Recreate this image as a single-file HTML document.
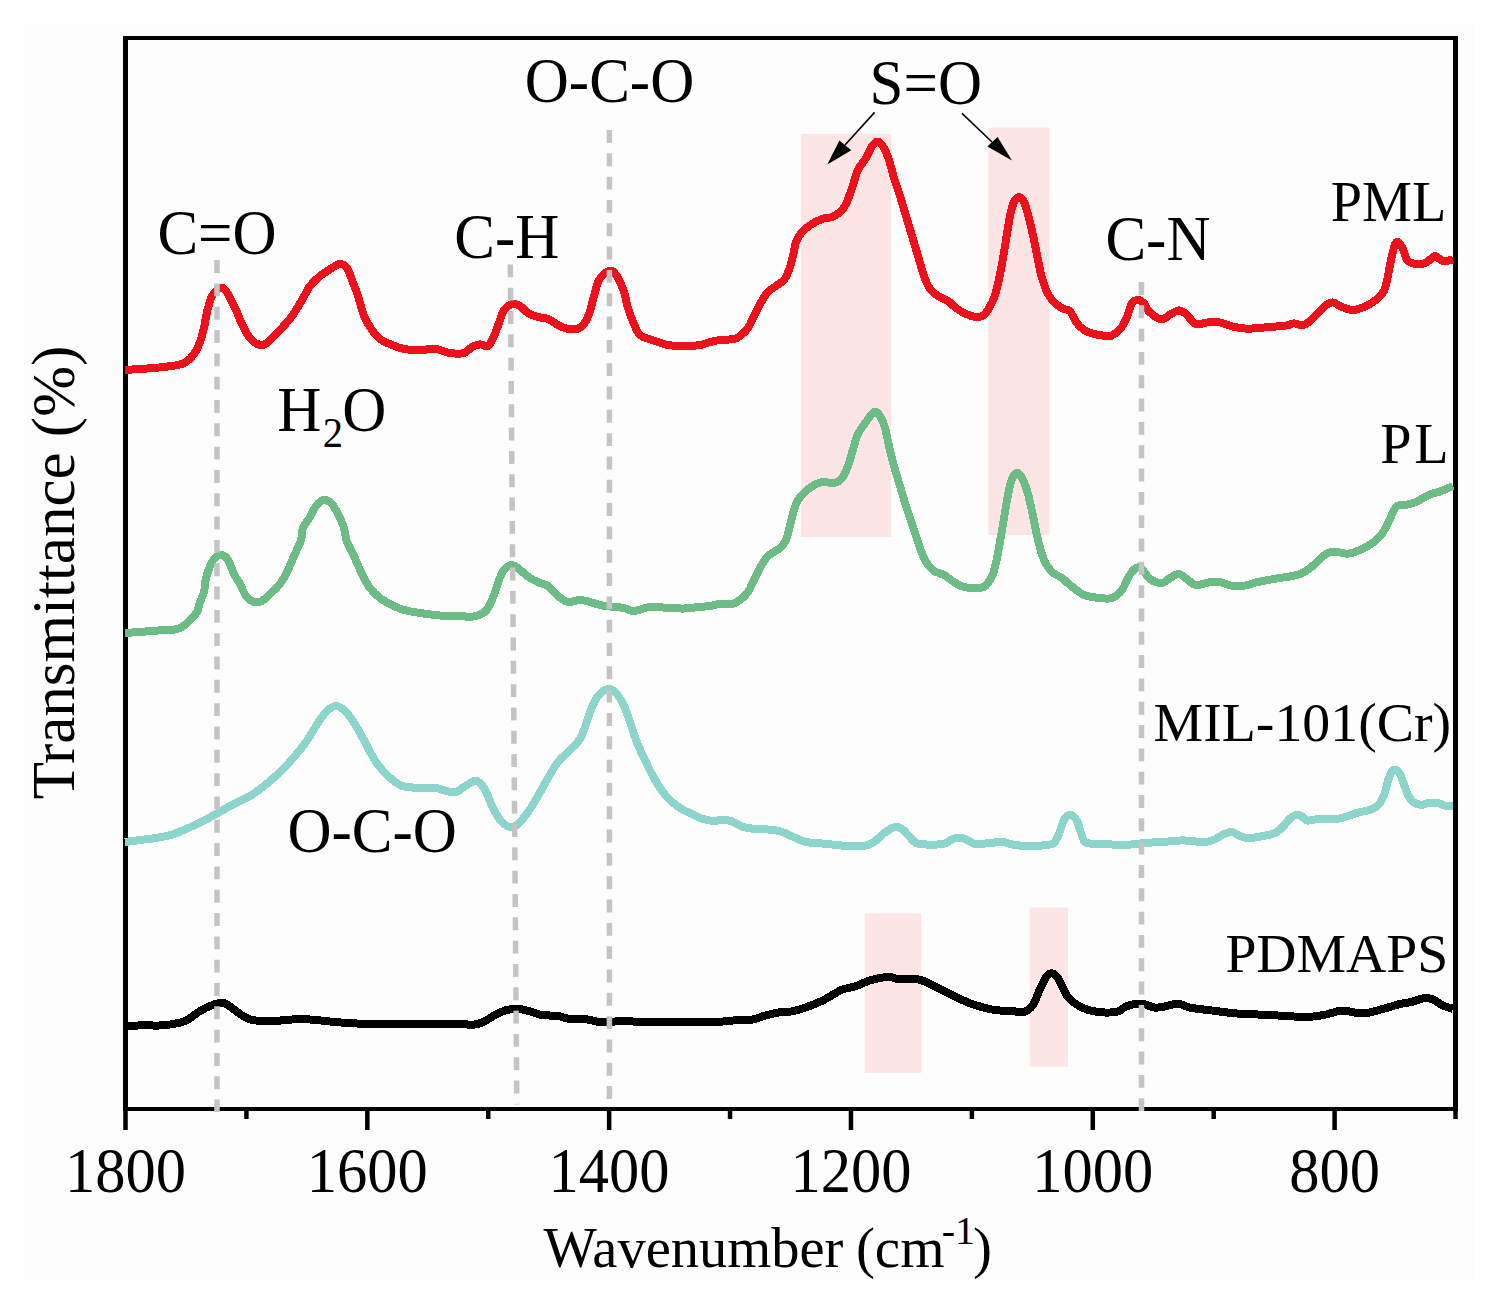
<!DOCTYPE html><html><head><meta charset="utf-8"><style>html,body{margin:0;padding:0;background:#fff;}body{width:1498px;height:1301px;overflow:hidden;position:relative;}svg{position:absolute;left:0;top:0;display:block;}text{font-family:"Liberation Serif",serif;fill:#000;}</style></head><body>
<svg width="1498" height="1301" viewBox="0 0 1498 1301">
<rect x="0" y="0" width="1498" height="1301" fill="#ffffff"/>
<rect x="23" y="24" width="1451" height="1257" fill="#fdfdfd"/>
<rect x="801" y="134" width="90.0" height="403.0" fill="#fde5e5"/>
<rect x="988.4" y="127.6" width="61.1" height="407.4" fill="#fde5e5"/>
<rect x="864.8" y="913.3" width="56.5" height="159.6" fill="#fde5e5"/>
<rect x="1029.7" y="907.5" width="38.3" height="159.3" fill="#fde5e5"/>
<g fill="#000">
<rect x="123" y="36" width="5" height="1075"/>
<rect x="1453" y="36" width="5" height="1075"/>
<rect x="123" y="36" width="1335" height="4"/>
<rect x="123" y="1107" width="1335" height="4"/>
<rect x="123.25" y="1111" width="4.5" height="19"/>
<rect x="244.16" y="1111" width="4.5" height="8"/>
<rect x="365.07" y="1111" width="4.5" height="19"/>
<rect x="485.98" y="1111" width="4.5" height="8"/>
<rect x="606.89" y="1111" width="4.5" height="19"/>
<rect x="727.80" y="1111" width="4.5" height="8"/>
<rect x="848.71" y="1111" width="4.5" height="19"/>
<rect x="969.62" y="1111" width="4.5" height="8"/>
<rect x="1090.53" y="1111" width="4.5" height="19"/>
<rect x="1211.44" y="1111" width="4.5" height="8"/>
<rect x="1332.35" y="1111" width="4.5" height="19"/>
<rect x="1453.26" y="1111" width="4.5" height="8"/>
</g>
<clipPath id="pc"><rect x="125.5" y="36" width="1330" height="1075"/></clipPath>
<g fill="none" stroke-linejoin="round" stroke-linecap="butt" shape-rendering="crispEdges">
<path d="M124.9,1025.9 C128.0,1025.8 137.2,1025.5 143.4,1025.4 C149.6,1025.3 156.2,1025.8 162.0,1025.4 C167.8,1025.0 174.1,1024.0 178.4,1023.0 C182.7,1022.0 184.3,1021.5 187.8,1019.6 C191.3,1017.7 195.5,1013.7 199.4,1011.4 C203.3,1009.1 207.1,1007.0 211.0,1005.6 C214.9,1004.2 219.3,1002.4 222.8,1002.8 C226.3,1003.2 228.9,1006.0 232.0,1008.0 C235.1,1010.0 238.3,1013.1 241.5,1015.0 C244.7,1016.9 247.1,1018.6 251.0,1019.6 C254.9,1020.6 259.6,1021.1 265.0,1021.2 C270.4,1021.3 277.8,1020.7 283.6,1020.3 C289.4,1019.9 294.2,1019.0 300.0,1019.0 C305.8,1019.0 311.6,1019.7 318.6,1020.3 C325.6,1020.9 332.3,1021.9 342.0,1022.6 C351.7,1023.3 363.4,1024.0 377.0,1024.3 C390.6,1024.6 409.9,1024.4 423.7,1024.3 C437.5,1024.2 452.0,1023.5 460.0,1023.6 C468.0,1023.7 467.8,1025.3 471.7,1025.0 C475.6,1024.7 479.5,1023.7 483.4,1022.0 C487.3,1020.3 491.1,1017.0 495.0,1015.0 C498.9,1013.0 502.8,1011.0 506.7,1010.0 C510.6,1009.0 514.5,1008.8 518.4,1009.0 C522.3,1009.2 526.1,1010.4 530.0,1011.4 C533.9,1012.4 537.1,1014.2 541.8,1015.0 C546.5,1015.8 553.3,1015.3 558.0,1016.0 C562.7,1016.7 564.9,1018.4 570.0,1019.0 C575.1,1019.6 583.5,1019.1 588.5,1019.6 C593.5,1020.1 594.1,1021.7 600.0,1022.0 C605.9,1022.3 615.8,1021.2 623.6,1021.2 C631.4,1021.2 637.3,1021.9 647.0,1022.0 C656.7,1022.1 670.3,1022.0 682.0,1022.0 C693.7,1022.0 709.2,1022.2 717.0,1022.0 C724.8,1021.8 722.9,1021.1 728.7,1020.7 C734.5,1020.3 746.2,1020.4 752.0,1019.6 C757.8,1018.8 759.4,1017.2 763.7,1016.0 C768.0,1014.8 773.1,1013.4 777.8,1012.6 C782.5,1011.8 787.4,1012.2 791.8,1011.4 C796.2,1010.6 798.9,1009.8 804.0,1008.0 C809.1,1006.2 816.5,1003.5 822.7,1000.5 C828.9,997.5 836.0,992.4 841.4,990.0 C846.8,987.6 850.7,988.0 855.4,986.4 C860.1,984.8 864.0,982.2 869.4,980.6 C874.8,979.0 882.9,977.2 888.0,977.0 C893.1,976.8 894.7,979.0 899.8,979.4 C904.9,979.8 912.6,978.2 918.5,979.4 C924.4,980.6 929.0,983.7 934.9,986.4 C940.8,989.1 947.4,992.9 953.6,995.8 C959.8,998.7 965.4,1001.7 972.0,1004.0 C978.6,1006.3 986.6,1008.6 993.3,1009.8 C1000.0,1011.0 1007.0,1010.6 1012.0,1011.0 C1017.0,1011.4 1020.1,1013.0 1023.6,1012.0 C1027.1,1011.0 1030.3,1008.9 1033.0,1005.0 C1035.7,1001.1 1037.7,993.6 1040.0,988.8 C1042.3,984.0 1044.9,978.5 1047.0,976.0 C1049.1,973.5 1050.8,973.0 1052.8,973.6 C1054.8,974.2 1056.2,975.5 1058.7,979.4 C1061.2,983.3 1064.1,992.3 1068.0,997.0 C1071.9,1001.7 1076.9,1005.0 1082.0,1007.5 C1087.1,1010.0 1092.6,1011.3 1098.4,1012.0 C1104.2,1012.7 1112.3,1012.7 1117.0,1011.7 C1121.7,1010.8 1122.5,1007.6 1126.5,1006.3 C1130.5,1004.9 1136.2,1003.4 1141.0,1003.6 C1145.8,1003.8 1150.7,1007.2 1155.0,1007.6 C1159.3,1008.0 1162.8,1006.7 1166.7,1006.0 C1170.6,1005.3 1174.5,1003.3 1178.4,1003.6 C1182.3,1003.9 1184.2,1006.4 1190.0,1007.6 C1195.8,1008.8 1205.7,1009.7 1213.5,1010.7 C1221.3,1011.7 1229.0,1012.9 1236.8,1013.5 C1244.5,1014.1 1252.2,1014.2 1260.0,1014.6 C1267.8,1015.0 1275.8,1015.4 1283.6,1015.8 C1291.4,1016.2 1300.0,1017.2 1307.0,1017.0 C1314.0,1016.8 1319.8,1015.6 1325.6,1014.6 C1331.4,1013.6 1335.8,1010.9 1342.0,1010.7 C1348.2,1010.5 1356.4,1013.7 1363.0,1013.5 C1369.6,1013.3 1375.5,1010.9 1381.7,1009.3 C1387.9,1007.7 1395.0,1005.2 1400.0,1004.0 C1405.0,1002.8 1408.0,1002.8 1412.0,1001.8 C1416.0,1000.8 1420.2,998.7 1423.7,998.3 C1427.2,997.9 1429.9,998.2 1433.0,999.4 C1436.1,1000.6 1439.1,1003.7 1442.4,1005.3 C1445.7,1006.9 1451.2,1008.2 1453.0,1008.8" stroke="#000000" stroke-width="8"/>
<path d="M124.9,842.0 C127.4,841.7 134.8,840.7 140.0,840.0 C145.2,839.3 150.7,838.9 156.0,838.0 C161.3,837.1 167.0,836.1 172.0,834.6 C177.0,833.1 181.3,831.0 186.0,829.0 C190.7,827.0 195.0,825.1 200.0,822.6 C205.0,820.1 210.7,816.9 216.0,814.0 C221.3,811.1 226.3,808.0 232.0,805.0 C237.7,802.0 244.7,799.2 250.0,796.0 C255.3,792.8 259.0,790.0 264.0,786.0 C269.0,782.0 275.0,776.8 280.0,772.0 C285.0,767.2 289.7,762.0 294.0,757.0 C298.3,752.0 302.3,747.2 306.0,742.0 C309.7,736.8 312.7,731.0 316.0,726.0 C319.3,721.0 322.7,715.3 326.0,712.0 C329.3,708.7 332.7,706.0 336.0,706.0 C339.3,706.0 342.7,708.7 346.0,712.0 C349.3,715.3 352.7,720.7 356.0,726.0 C359.3,731.3 362.7,738.0 366.0,744.0 C369.3,750.0 372.3,756.7 376.0,762.0 C379.7,767.3 384.0,772.2 388.0,776.0 C392.0,779.8 396.7,783.2 400.0,785.0 C403.3,786.8 404.7,786.5 408.0,787.0 C411.3,787.5 415.3,787.8 420.0,788.0 C424.7,788.2 431.7,787.5 436.0,788.0 C440.3,788.5 442.7,790.3 446.0,791.0 C449.3,791.7 453.0,792.7 456.0,792.0 C459.0,791.3 461.0,788.8 464.0,787.0 C467.0,785.2 471.3,781.7 474.0,781.0 C476.7,780.3 478.0,781.2 480.0,783.0 C482.0,784.8 483.7,787.5 486.0,792.0 C488.3,796.5 491.3,805.0 494.0,810.0 C496.7,815.0 499.3,819.2 502.0,822.0 C504.7,824.8 507.3,826.7 510.0,827.0 C512.7,827.3 515.0,826.5 518.0,824.0 C521.0,821.5 524.7,816.7 528.0,812.0 C531.3,807.3 534.7,801.7 538.0,796.0 C541.3,790.3 544.7,783.7 548.0,778.0 C551.3,772.3 554.7,766.3 558.0,762.0 C561.3,757.7 564.7,755.3 568.0,752.0 C571.3,748.7 575.3,745.7 578.0,742.0 C580.7,738.3 582.0,735.0 584.0,730.0 C586.0,725.0 587.7,717.7 590.0,712.0 C592.3,706.3 595.0,699.8 598.0,696.0 C601.0,692.2 605.0,689.5 608.0,689.0 C611.0,688.5 613.3,690.2 616.0,693.0 C618.7,695.8 621.7,701.2 624.0,706.0 C626.3,710.8 628.0,716.3 630.0,722.0 C632.0,727.7 633.7,734.0 636.0,740.0 C638.3,746.0 641.0,751.7 644.0,758.0 C647.0,764.3 650.3,771.7 654.0,778.0 C657.7,784.3 661.7,791.0 666.0,796.0 C670.3,801.0 675.7,805.0 680.0,808.0 C684.3,811.0 688.7,812.3 692.0,814.0 C695.3,815.7 696.5,816.8 700.0,818.0 C703.5,819.2 709.5,820.7 713.0,821.0 C716.5,821.3 718.0,820.0 721.0,820.0 C724.0,820.0 727.5,819.9 731.0,821.0 C734.5,822.1 738.5,825.3 742.0,826.6 C745.5,827.9 748.7,828.2 752.0,828.6 C755.3,829.0 757.5,828.6 762.0,829.0 C766.5,829.4 773.8,829.7 779.0,831.0 C784.2,832.3 789.0,835.2 793.5,837.0 C798.0,838.8 800.8,840.9 806.0,842.0 C811.2,843.1 818.0,843.1 824.5,843.7 C831.0,844.3 838.4,845.4 845.0,845.8 C851.6,846.1 859.2,846.4 864.0,845.8 C868.8,845.2 870.6,844.2 874.0,842.0 C877.4,839.8 881.0,835.3 884.5,832.8 C888.0,830.3 891.9,827.5 895.0,827.0 C898.1,826.5 899.9,827.4 903.0,829.7 C906.1,832.0 910.7,838.6 913.5,841.0 C916.3,843.4 915.2,843.5 920.0,844.0 C924.8,844.5 937.3,844.7 942.5,844.0 C947.7,843.3 948.2,841.1 951.0,840.0 C953.8,838.9 956.3,837.5 959.0,837.5 C961.7,837.5 964.2,838.9 967.0,840.0 C969.8,841.1 971.8,843.5 975.6,844.0 C979.4,844.5 985.6,843.3 990.0,843.0 C994.4,842.7 997.8,841.7 1002.0,842.0 C1006.2,842.3 1010.2,844.3 1015.0,845.0 C1019.8,845.7 1024.8,846.2 1031.0,846.0 C1037.2,845.8 1047.5,845.7 1052.0,844.0 C1056.5,842.3 1055.9,840.2 1058.0,836.0 C1060.1,831.8 1062.4,822.5 1064.5,819.0 C1066.6,815.5 1068.6,814.7 1070.7,815.0 C1072.8,815.3 1075.1,817.5 1077.0,821.0 C1078.9,824.5 1080.3,832.3 1082.0,836.0 C1083.7,839.7 1083.3,841.7 1087.0,843.0 C1090.7,844.3 1097.8,843.7 1104.0,844.0 C1110.2,844.3 1117.7,845.2 1124.5,845.0 C1131.3,844.8 1138.1,843.5 1145.0,843.0 C1151.9,842.5 1159.8,842.1 1166.0,841.7 C1172.2,841.3 1176.3,840.4 1182.5,840.4 C1188.7,840.4 1197.8,842.1 1203.0,842.0 C1208.2,841.9 1210.0,841.3 1213.5,840.0 C1217.0,838.7 1220.9,835.3 1224.0,834.0 C1227.1,832.7 1229.3,831.7 1232.0,832.0 C1234.7,832.3 1237.2,835.0 1240.0,836.0 C1242.8,837.0 1245.2,838.0 1249.0,838.0 C1252.8,838.0 1258.6,836.9 1263.0,836.0 C1267.4,835.1 1272.1,834.5 1275.6,832.8 C1279.1,831.0 1281.5,828.0 1284.0,825.5 C1286.5,823.0 1288.3,819.8 1290.5,818.0 C1292.7,816.2 1295.1,814.9 1297.0,814.6 C1298.9,814.4 1300.3,815.5 1302.0,816.5 C1303.7,817.5 1304.6,820.1 1307.4,820.5 C1310.2,820.9 1313.7,819.3 1319.0,819.0 C1324.3,818.7 1334.2,819.0 1339.0,818.5 C1343.8,818.0 1344.8,817.0 1348.0,816.0 C1351.2,815.0 1354.1,813.7 1358.0,812.6 C1361.9,811.5 1368.0,810.8 1371.5,809.4 C1375.0,808.0 1376.8,806.6 1379.0,804.0 C1381.2,801.4 1382.9,797.9 1384.5,793.7 C1386.1,789.5 1387.2,782.8 1388.5,779.0 C1389.8,775.2 1391.1,772.3 1392.4,770.8 C1393.7,769.3 1395.0,769.5 1396.3,770.0 C1397.6,770.5 1398.7,771.6 1400.0,774.0 C1401.3,776.4 1402.7,781.0 1404.0,784.5 C1405.3,788.0 1406.5,792.1 1408.0,795.0 C1409.5,797.9 1411.1,800.4 1413.3,802.0 C1415.5,803.6 1418.2,804.7 1421.0,804.8 C1423.8,804.9 1426.9,803.0 1430.0,802.8 C1433.1,802.6 1436.7,803.0 1439.4,803.5 C1442.1,804.0 1443.7,805.6 1446.0,806.0 C1448.3,806.4 1451.8,806.0 1453.0,806.0" stroke="#8cd5cc" stroke-width="8"/>
<path d="M124.9,633.0 C127.4,632.8 134.8,632.4 140.0,632.0 C145.2,631.6 150.7,630.9 156.0,630.6 C161.3,630.3 167.7,630.6 172.0,630.0 C176.3,629.4 179.0,628.7 182.0,627.0 C185.0,625.3 187.5,622.5 190.0,620.0 C192.5,617.5 195.3,615.0 197.0,612.0 C198.7,609.0 198.8,605.3 200.0,602.0 C201.2,598.7 203.0,596.0 204.0,592.0 C205.0,588.0 204.8,582.7 206.0,578.0 C207.2,573.3 209.3,567.5 211.0,564.0 C212.7,560.5 214.2,558.5 216.0,557.0 C217.8,555.5 220.0,554.5 222.0,555.0 C224.0,555.5 226.0,556.8 228.0,560.0 C230.0,563.2 232.0,570.0 234.0,574.0 C236.0,578.0 238.0,580.3 240.0,584.0 C242.0,587.7 243.7,593.0 246.0,596.0 C248.3,599.0 251.3,601.2 254.0,602.0 C256.7,602.8 259.3,602.3 262.0,601.0 C264.7,599.7 267.0,596.8 270.0,594.0 C273.0,591.2 277.0,588.0 280.0,584.0 C283.0,580.0 285.7,574.7 288.0,570.0 C290.3,565.3 291.8,561.0 294.0,556.0 C296.2,551.0 299.5,544.7 301.0,540.0 C302.5,535.3 301.5,531.8 303.0,528.0 C304.5,524.2 307.8,520.7 310.0,517.0 C312.2,513.3 313.8,508.8 316.0,506.0 C318.2,503.2 320.5,500.5 323.0,500.0 C325.5,499.5 328.5,500.7 331.0,503.0 C333.5,505.3 335.8,509.8 338.0,514.0 C340.2,518.2 342.5,523.3 344.0,528.0 C345.5,532.7 345.3,537.3 347.0,542.0 C348.7,546.7 351.5,550.7 354.0,556.0 C356.5,561.3 359.3,568.7 362.0,574.0 C364.7,579.3 367.0,584.0 370.0,588.0 C373.0,592.0 376.3,595.2 380.0,598.0 C383.7,600.8 388.0,603.0 392.0,605.0 C396.0,607.0 399.3,608.7 404.0,610.0 C408.7,611.3 414.0,612.1 420.0,613.0 C426.0,613.9 433.3,615.0 440.0,615.5 C446.7,616.0 454.7,615.8 460.0,616.0 C465.3,616.2 468.0,617.3 472.0,616.7 C476.0,616.1 481.0,614.6 484.0,612.5 C487.0,610.4 488.2,607.4 490.0,604.0 C491.8,600.6 493.5,596.0 495.0,592.0 C496.5,588.0 497.5,583.7 499.0,580.0 C500.5,576.3 501.8,572.5 504.0,570.0 C506.2,567.5 509.3,565.0 512.0,565.0 C514.7,565.0 517.0,567.8 520.0,570.0 C523.0,572.2 526.7,575.8 530.0,578.0 C533.3,580.2 537.0,581.7 540.0,583.0 C543.0,584.3 545.0,583.8 548.0,586.0 C551.0,588.2 554.7,593.3 558.0,596.0 C561.3,598.7 564.3,601.3 568.0,602.0 C571.7,602.7 576.3,600.0 580.0,600.0 C583.7,600.0 586.7,601.2 590.0,602.0 C593.3,602.8 596.7,604.2 600.0,605.0 C603.3,605.8 606.0,606.0 610.0,606.5 C614.0,607.0 620.0,607.2 624.0,608.0 C628.0,608.8 629.7,611.2 634.0,611.0 C638.3,610.8 644.0,607.5 650.0,607.0 C656.0,606.5 664.3,607.8 670.0,608.0 C675.7,608.2 679.2,608.7 684.0,608.5 C688.8,608.3 694.7,607.4 699.0,607.0 C703.3,606.6 706.5,606.5 710.0,606.0 C713.5,605.5 716.3,604.3 720.0,604.0 C723.7,603.7 728.7,604.7 732.0,604.0 C735.3,603.3 737.3,602.0 740.0,600.0 C742.7,598.0 745.7,595.3 748.0,592.0 C750.3,588.7 752.0,584.0 754.0,580.0 C756.0,576.0 757.7,572.0 760.0,568.0 C762.3,564.0 764.7,559.3 768.0,556.0 C771.3,552.7 777.0,550.7 780.0,548.0 C783.0,545.3 784.3,543.7 786.0,540.0 C787.7,536.3 788.7,531.0 790.0,526.0 C791.3,521.0 792.7,514.3 794.0,510.0 C795.3,505.7 796.0,503.2 798.0,500.0 C800.0,496.8 803.0,493.7 806.0,491.0 C809.0,488.3 813.0,485.5 816.0,484.0 C819.0,482.5 821.0,482.2 824.0,482.0 C827.0,481.8 831.0,483.7 834.0,483.0 C837.0,482.3 839.7,480.8 842.0,478.0 C844.3,475.2 846.0,471.3 848.0,466.0 C850.0,460.7 852.3,451.3 854.0,446.0 C855.7,440.7 856.0,438.0 858.0,434.0 C860.0,430.0 863.3,425.7 866.0,422.0 C868.7,418.3 871.7,413.0 874.0,412.0 C876.3,411.0 878.2,413.3 880.0,416.0 C881.8,418.7 883.5,423.0 885.0,428.0 C886.5,433.0 887.5,439.7 889.0,446.0 C890.5,452.3 892.2,459.3 894.0,466.0 C895.8,472.7 898.0,479.3 900.0,486.0 C902.0,492.7 903.7,498.7 906.0,506.0 C908.3,513.3 911.7,523.0 914.0,530.0 C916.3,537.0 918.0,542.7 920.0,548.0 C922.0,553.3 923.7,558.2 926.0,562.0 C928.3,565.8 931.0,568.8 934.0,571.0 C937.0,573.2 940.7,573.2 944.0,575.0 C947.3,576.8 950.7,580.0 954.0,582.0 C957.3,584.0 960.3,586.0 964.0,587.0 C967.7,588.0 972.7,588.0 976.0,588.0 C979.3,588.0 982.0,587.8 984.0,587.0 C986.0,586.2 986.5,585.2 988.0,583.0 C989.5,580.8 991.5,578.2 993.0,574.0 C994.5,569.8 995.7,564.3 997.0,558.0 C998.3,551.7 999.7,543.7 1001.0,536.0 C1002.3,528.3 1003.7,519.7 1005.0,512.0 C1006.3,504.3 1007.7,495.8 1009.0,490.0 C1010.3,484.2 1011.5,479.8 1013.0,477.0 C1014.5,474.2 1016.3,472.5 1018.0,473.0 C1019.7,473.5 1021.3,476.5 1023.0,480.0 C1024.7,483.5 1026.3,488.0 1028.0,494.0 C1029.7,500.0 1031.3,508.3 1033.0,516.0 C1034.7,523.7 1036.2,532.7 1038.0,540.0 C1039.8,547.3 1041.7,554.7 1044.0,560.0 C1046.3,565.3 1049.0,569.0 1052.0,572.0 C1055.0,575.0 1059.0,575.8 1062.0,578.0 C1065.0,580.2 1066.3,582.2 1070.0,585.0 C1073.7,587.8 1079.0,592.8 1084.0,595.0 C1089.0,597.2 1095.3,597.5 1100.0,598.0 C1104.7,598.5 1108.3,599.3 1112.0,598.0 C1115.7,596.7 1119.2,593.7 1122.0,590.0 C1124.8,586.3 1126.7,579.7 1129.0,576.0 C1131.3,572.3 1133.8,569.2 1136.0,568.0 C1138.2,566.8 1139.7,567.2 1142.0,569.0 C1144.3,570.8 1146.7,576.7 1150.0,579.0 C1153.3,581.3 1158.7,583.2 1162.0,583.0 C1165.3,582.8 1167.2,579.5 1170.0,578.0 C1172.8,576.5 1176.0,573.7 1179.0,574.0 C1182.0,574.3 1185.2,578.2 1188.0,580.0 C1190.8,581.8 1192.2,584.7 1196.0,585.0 C1199.8,585.3 1207.0,582.5 1211.0,582.0 C1215.0,581.5 1216.7,581.4 1220.0,582.0 C1223.3,582.6 1226.8,584.9 1231.0,585.5 C1235.2,586.1 1240.5,586.1 1245.0,585.5 C1249.5,584.9 1252.8,583.1 1258.0,582.0 C1263.2,580.9 1269.5,579.8 1276.0,578.6 C1282.5,577.4 1291.7,576.5 1297.0,575.0 C1302.3,573.5 1304.7,571.8 1308.0,569.6 C1311.3,567.4 1314.0,564.6 1317.0,562.0 C1320.0,559.4 1323.0,555.7 1326.0,554.0 C1329.0,552.3 1331.3,551.6 1335.0,551.6 C1338.7,551.6 1343.5,554.1 1348.0,553.7 C1352.5,553.3 1357.8,550.9 1362.0,549.0 C1366.2,547.1 1369.7,545.2 1373.0,542.6 C1376.3,540.0 1379.3,537.2 1382.0,533.6 C1384.7,530.0 1386.6,525.5 1389.0,521.0 C1391.4,516.5 1393.5,509.2 1396.5,506.5 C1399.5,503.8 1403.8,505.4 1407.0,504.7 C1410.2,503.9 1412.3,503.6 1416.0,502.0 C1419.7,500.4 1424.8,496.6 1429.0,494.8 C1433.2,493.0 1437.5,492.5 1441.5,491.0 C1445.5,489.5 1451.1,486.7 1453.0,485.8" stroke="#6cbd85" stroke-width="8"/>
<path d="M124.9,370.0 C127.4,369.8 134.2,369.4 140.0,369.0 C145.8,368.6 153.7,368.1 160.0,367.4 C166.3,366.7 173.7,365.9 178.0,365.0 C182.3,364.1 183.3,363.8 186.0,362.0 C188.7,360.2 191.7,357.3 194.0,354.0 C196.3,350.7 198.3,346.3 200.0,342.0 C201.7,337.7 202.8,333.0 204.0,328.0 C205.2,323.0 205.7,317.3 207.0,312.0 C208.3,306.7 210.2,299.8 212.0,296.0 C213.8,292.2 216.2,290.3 218.0,289.0 C219.8,287.7 221.3,287.2 223.0,288.0 C224.7,288.8 225.8,290.3 228.0,294.0 C230.2,297.7 233.7,305.0 236.0,310.0 C238.3,315.0 239.7,319.3 242.0,324.0 C244.3,328.7 247.0,334.5 250.0,338.0 C253.0,341.5 257.0,344.3 260.0,345.0 C263.0,345.7 264.7,344.5 268.0,342.0 C271.3,339.5 276.0,334.3 280.0,330.0 C284.0,325.7 288.3,321.0 292.0,316.0 C295.7,311.0 299.0,305.0 302.0,300.0 C305.0,295.0 307.0,290.0 310.0,286.0 C313.0,282.0 316.3,279.0 320.0,276.0 C323.7,273.0 328.7,270.0 332.0,268.0 C335.3,266.0 337.5,264.0 340.0,264.0 C342.5,264.0 345.0,265.3 347.0,268.0 C349.0,270.7 350.2,275.3 352.0,280.0 C353.8,284.7 356.0,290.0 358.0,296.0 C360.0,302.0 361.7,310.3 364.0,316.0 C366.3,321.7 369.3,326.2 372.0,330.0 C374.7,333.8 376.7,336.5 380.0,339.0 C383.3,341.5 388.0,343.3 392.0,345.0 C396.0,346.7 399.3,348.2 404.0,349.0 C408.7,349.8 414.7,350.0 420.0,350.0 C425.3,350.0 431.0,348.5 436.0,349.0 C441.0,349.5 445.3,352.3 450.0,353.0 C454.7,353.7 460.3,354.0 464.0,353.0 C467.7,352.0 469.3,348.4 472.0,347.0 C474.7,345.6 477.3,344.6 480.0,344.4 C482.7,344.2 485.7,347.4 488.0,346.0 C490.3,344.6 492.0,340.3 494.0,336.0 C496.0,331.7 498.3,324.3 500.0,320.0 C501.7,315.7 502.0,312.7 504.0,310.0 C506.0,307.3 509.3,304.7 512.0,304.0 C514.7,303.3 517.3,304.5 520.0,306.0 C522.7,307.5 525.0,311.2 528.0,313.0 C531.0,314.8 534.7,316.0 538.0,317.0 C541.3,318.0 544.7,317.7 548.0,319.0 C551.3,320.3 554.7,323.3 558.0,325.0 C561.3,326.7 564.7,328.4 568.0,329.0 C571.3,329.6 575.3,329.4 578.0,328.6 C580.7,327.8 582.2,326.4 584.0,324.0 C585.8,321.6 587.3,318.7 589.0,314.0 C590.7,309.3 592.5,301.3 594.0,296.0 C595.5,290.7 596.3,285.7 598.0,282.0 C599.7,278.3 601.7,275.8 604.0,274.0 C606.3,272.2 609.7,270.3 612.0,271.0 C614.3,271.7 616.0,274.5 618.0,278.0 C620.0,281.5 622.3,287.0 624.0,292.0 C625.7,297.0 626.3,302.7 628.0,308.0 C629.7,313.3 632.0,319.5 634.0,324.0 C636.0,328.5 637.0,332.3 640.0,335.0 C643.0,337.7 647.3,338.3 652.0,340.0 C656.7,341.7 662.7,344.0 668.0,345.0 C673.3,346.0 678.7,346.0 684.0,346.0 C689.3,346.0 695.7,345.7 700.0,345.0 C704.3,344.3 706.7,342.8 710.0,342.0 C713.3,341.2 716.0,340.5 720.0,340.0 C724.0,339.5 730.7,339.7 734.0,339.0 C737.3,338.3 737.7,337.8 740.0,336.0 C742.3,334.2 745.7,331.3 748.0,328.0 C750.3,324.7 752.0,320.0 754.0,316.0 C756.0,312.0 757.7,308.0 760.0,304.0 C762.3,300.0 765.3,295.0 768.0,292.0 C770.7,289.0 773.3,288.0 776.0,286.0 C778.7,284.0 781.8,282.7 784.0,280.0 C786.2,277.3 787.5,274.0 789.0,270.0 C790.5,266.0 791.8,260.7 793.0,256.0 C794.2,251.3 794.5,246.0 796.0,242.0 C797.5,238.0 799.3,235.0 802.0,232.0 C804.7,229.0 808.7,226.2 812.0,224.0 C815.3,221.8 818.7,220.2 822.0,219.0 C825.3,217.8 829.0,218.2 832.0,217.0 C835.0,215.8 837.7,214.2 840.0,212.0 C842.3,209.8 844.0,208.0 846.0,204.0 C848.0,200.0 850.0,193.7 852.0,188.0 C854.0,182.3 855.7,175.0 858.0,170.0 C860.3,165.0 863.7,162.0 866.0,158.0 C868.3,154.0 870.0,148.7 872.0,146.0 C874.0,143.3 876.0,141.3 878.0,141.6 C880.0,141.9 882.2,144.9 884.0,148.0 C885.8,151.1 887.3,155.0 889.0,160.0 C890.7,165.0 892.2,172.0 894.0,178.0 C895.8,184.0 898.0,189.7 900.0,196.0 C902.0,202.3 904.0,209.3 906.0,216.0 C908.0,222.7 910.0,229.3 912.0,236.0 C914.0,242.7 916.0,249.3 918.0,256.0 C920.0,262.7 922.0,270.5 924.0,276.0 C926.0,281.5 927.7,285.7 930.0,289.0 C932.3,292.3 935.0,294.0 938.0,296.0 C941.0,298.0 945.0,299.0 948.0,301.0 C951.0,303.0 953.0,305.8 956.0,308.0 C959.0,310.2 962.7,312.5 966.0,314.0 C969.3,315.5 973.0,316.8 976.0,317.0 C979.0,317.2 981.8,316.5 984.0,315.0 C986.2,313.5 987.3,310.8 989.0,308.0 C990.7,305.2 992.5,302.0 994.0,298.0 C995.5,294.0 996.7,289.7 998.0,284.0 C999.3,278.3 1000.7,271.3 1002.0,264.0 C1003.3,256.7 1004.7,248.0 1006.0,240.0 C1007.3,232.0 1008.7,222.3 1010.0,216.0 C1011.3,209.7 1012.5,205.2 1014.0,202.0 C1015.5,198.8 1017.3,197.0 1019.0,197.0 C1020.7,197.0 1022.3,198.5 1024.0,202.0 C1025.7,205.5 1027.3,211.7 1029.0,218.0 C1030.7,224.3 1032.5,233.0 1034.0,240.0 C1035.5,247.0 1036.7,253.7 1038.0,260.0 C1039.3,266.3 1040.3,272.3 1042.0,278.0 C1043.7,283.7 1045.7,289.7 1048.0,294.0 C1050.3,298.3 1053.3,301.5 1056.0,304.0 C1058.7,306.5 1061.7,307.8 1064.0,309.0 C1066.3,310.2 1068.0,308.8 1070.0,311.0 C1072.0,313.2 1073.7,318.8 1076.0,322.0 C1078.3,325.2 1081.0,328.0 1084.0,330.0 C1087.0,332.0 1090.3,333.0 1094.0,334.0 C1097.7,335.0 1103.2,335.7 1106.0,336.0 C1108.8,336.3 1108.4,337.1 1110.7,336.0 C1113.0,334.9 1117.3,332.5 1120.0,329.4 C1122.7,326.3 1124.7,321.7 1126.7,317.4 C1128.7,313.1 1130.1,306.3 1132.0,303.4 C1133.9,300.5 1136.0,300.0 1138.0,300.0 C1140.0,300.0 1142.1,301.4 1144.0,303.4 C1145.9,305.4 1146.5,309.3 1149.4,312.0 C1152.3,314.7 1157.8,319.1 1161.4,319.4 C1165.0,319.7 1167.9,315.5 1170.8,314.0 C1173.7,312.5 1176.4,310.5 1178.8,310.4 C1181.2,310.3 1182.5,311.1 1185.4,313.4 C1188.3,315.7 1192.4,322.5 1196.0,324.0 C1199.6,325.5 1202.8,322.8 1206.8,322.5 C1210.8,322.2 1215.5,321.8 1220.0,322.5 C1224.5,323.2 1229.0,325.7 1233.5,326.7 C1238.0,327.7 1242.5,328.5 1246.9,328.7 C1251.3,328.9 1255.5,328.1 1260.0,327.8 C1264.5,327.5 1269.1,327.1 1273.6,326.7 C1278.1,326.3 1283.7,325.9 1287.0,325.4 C1290.3,324.8 1291.4,323.5 1293.6,323.4 C1295.8,323.3 1297.9,324.6 1300.0,324.7 C1302.1,324.8 1303.5,325.4 1306.0,324.0 C1308.5,322.6 1311.7,319.2 1315.0,316.0 C1318.3,312.8 1323.0,307.2 1326.0,305.0 C1329.0,302.8 1330.3,302.2 1333.0,302.5 C1335.7,302.8 1338.7,305.8 1342.0,307.0 C1345.3,308.2 1349.0,310.2 1353.0,310.0 C1357.0,309.8 1362.0,307.8 1366.0,306.0 C1370.0,304.2 1374.0,301.5 1377.0,299.0 C1380.0,296.5 1382.2,294.5 1384.0,291.0 C1385.8,287.5 1386.3,283.2 1387.5,278.0 C1388.7,272.8 1389.8,265.5 1391.0,260.0 C1392.2,254.5 1393.5,248.0 1394.7,245.0 C1395.9,242.0 1396.6,241.3 1398.0,242.0 C1399.4,242.7 1401.5,246.0 1403.0,249.0 C1404.5,252.0 1405.1,257.6 1407.0,260.0 C1408.9,262.4 1411.5,263.2 1414.5,263.7 C1417.5,264.2 1421.8,264.2 1425.0,263.0 C1428.2,261.8 1432.0,257.5 1434.0,256.5 C1436.0,255.5 1435.4,256.4 1437.0,257.2 C1438.6,258.0 1441.4,260.8 1443.5,261.3 C1445.6,261.8 1447.9,260.6 1449.5,260.3 C1451.1,260.0 1452.4,259.5 1453.0,259.4" stroke="#ec111a" stroke-width="8"/>
</g>
<line x1="217" y1="260.1" x2="217" y2="1112" stroke="#c4c4c4" stroke-width="5.5" stroke-dasharray="12.9 10.42" fill="none"/>
<line x1="510.3" y1="264.4" x2="516.8" y2="1104.5" stroke="#c4c4c4" stroke-width="5.5" stroke-dasharray="12.9 10.42" fill="none"/>
<line x1="609.4" y1="130" x2="609.4" y2="1100" stroke="#c4c4c4" stroke-width="5.5" stroke-dasharray="12.9 10.42" fill="none"/>
<line x1="1141.5" y1="282" x2="1141.5" y2="1111.2" stroke="#c4c4c4" stroke-width="5.5" stroke-dasharray="12.9 10.42" fill="none"/>
<g stroke="#000" stroke-width="1.6" fill="#000">
<line x1="874.6" y1="112.4" x2="845" y2="145"/>
<polygon points="827.3,164.6 839.4,140.5 851.3,150.2" stroke="none"/>
<line x1="962" y1="113.4" x2="992" y2="142"/>
<polygon points="1012,160.4 987.4,146.4 997.6,137" stroke="none"/>
</g>
<text transform="translate(125.5,1192.1) scale(1,1.05)" font-size="60.5" text-anchor="middle">1800</text>
<text transform="translate(367.3,1192.1) scale(1,1.05)" font-size="60.5" text-anchor="middle">1600</text>
<text transform="translate(609.1,1192.1) scale(1,1.05)" font-size="60.5" text-anchor="middle">1400</text>
<text transform="translate(851.0,1192.1) scale(1,1.05)" font-size="60.5" text-anchor="middle">1200</text>
<text transform="translate(1092.8,1192.1) scale(1,1.05)" font-size="60.5" text-anchor="middle">1000</text>
<text transform="translate(1334.6,1192.1) scale(1,1.05)" font-size="60.5" text-anchor="middle">800</text>
<text x="543.5" y="1267" font-size="56.5">Wavenumber</text>
<text x="855.9" y="1267" font-size="57">(cm</text>
<text x="941.8" y="1244.2" font-size="40">-1</text>
<text x="973" y="1267" font-size="57">)</text>
<text transform="translate(74.2,798) rotate(-90)" x="-1.2" y="0" font-size="61">Transmittance (%)</text>
<text transform="translate(157.4,253.5) scale(1,1.04)" font-size="61">C=O</text>
<text transform="translate(454.2,258.3) scale(1,1.04)" font-size="61">C-H</text>
<text transform="translate(524.8,101.7) scale(1,1.04)" font-size="61">O-C-O</text>
<text transform="translate(869.6,103.8) scale(1,1.04)" font-size="61">S=O</text>
<text transform="translate(1105.4,259.5) scale(1,1.04)" font-size="61">C-N</text>
<text transform="translate(277.3,431.1) scale(1,1.04)" font-size="61">H<tspan font-size="40.6" dx="1.3" dy="15.5">2</tspan><tspan dx="-0.6" dy="-15.5">O</tspan></text>
<text transform="translate(287.5,851.6) scale(1,1.04)" font-size="61">O-C-O</text>
<text x="1330.8" y="221" font-size="56.2">PML</text>
<text x="1380.3" y="462.9" font-size="56.2" letter-spacing="2.8">PL</text>
<text x="1153.6" y="740.7" font-size="55.8">MIL-101(Cr)</text>
<text x="1225.4" y="971.9" font-size="55.7">PDMAPS</text>
</svg></body></html>
